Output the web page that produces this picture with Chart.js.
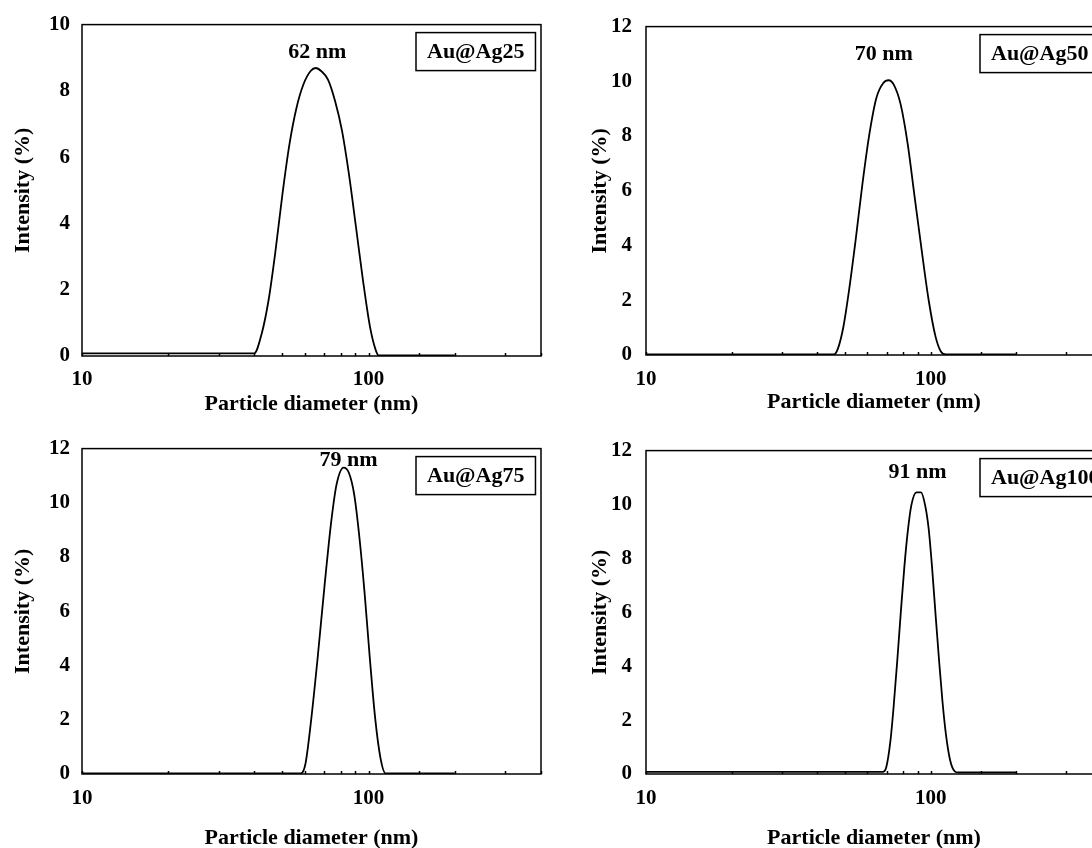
<!DOCTYPE html>
<html>
<head>
<meta charset="utf-8">
<script src="https://cdn.jsdelivr.net/npm/chart.js@4"></script>
<style>
  html, body { margin: 0; padding: 0; background: #fff; }
  body { width: 1092px; height: 848px; overflow: hidden; position: relative; }
  .panel { position: absolute; }
</style>
</head>
<body>
<div class="panel" style="left:0;top:0"><canvas id="c25" width="552" height="424"></canvas></div>
<div class="panel" style="left:546px;top:0"><canvas id="c50" width="568" height="424"></canvas></div>
<div class="panel" style="left:0;top:424px"><canvas id="c75" width="553" height="440"></canvas></div>
<div class="panel" style="left:546px;top:424px"><canvas id="c100" width="568" height="440"></canvas></div>
<script>
// particle diameter (nm) and intensity (%)
const size25 = [10, 39.9, 42.4, 44.8, 47.4, 50.1, 53.0, 56.1, 59.3, 62.8, 65.5, 68.3, 72.2, 76.4, 80.8, 85.4, 90.4, 95.6, 101.1, 105.5, 108.4, 200];
const int25 = [0.08, 0.08, 0.68, 1.69, 3.2, 4.9, 6.4, 7.5, 8.2, 8.6, 8.69, 8.6, 8.34, 7.7, 6.8, 5.5, 3.9, 2.3, 0.9, 0.23, 0.02, 0.02];

const size50 = [10, 45.8, 47.3, 49.4, 51.5, 54.5, 57.6, 60.9, 64.5, 68.2, 71.2, 74.2, 78.5, 83.1, 87.9, 93.0, 98.4, 104.0, 108.6, 113.2, 200];
const int50 = [0.02, 0.02, 0.25, 1.04, 2.25, 4.19, 6.25, 8.06, 9.40, 9.94, 10.04, 9.88, 9.15, 7.70, 5.76, 3.83, 2.01, 0.68, 0.13, 0.02, 0.02];

const size75 = [10, 58.0, 60.2, 62.8, 66.4, 70.2, 74.2, 77.4, 81.9, 85.4, 89.1, 92.9, 96.9, 101.1, 105.5, 110.0, 114.7, 200];
const int75 = [0.02, 0.02, 0.36, 1.82, 4.25, 6.92, 9.35, 10.69, 11.3, 11.11, 10.32, 8.75, 6.68, 4.25, 2.06, 0.61, 0.02, 0.02];

const size100 = [10, 67.9, 69.8, 72.2, 74.2, 76.4, 78.5, 80.8, 83.1, 85.5, 89.2, 92.5, 95.7, 98.4, 101.2, 104.0, 107.0, 110.1, 113.2, 117.2, 121.5, 125.0, 200];
const int100 = [0.08, 0.08, 0.24, 1.21, 2.55, 4.25, 5.95, 7.65, 8.99, 9.96, 10.45, 10.45, 9.96, 9.11, 7.65, 5.95, 4.25, 2.67, 1.46, 0.49, 0.1, 0.06, 0.06];

// sample names, peak labels and axis ranges
const samples = ['Au@Ag25', 'Au@Ag50', 'Au@Ag75', 'Au@Ag100'];
const peakLabels = ['62 nm', '70 nm', '79 nm', '91 nm'];
const yMax = [10, 12, 12, 12];
const xLabels = [10, 100];

const FONT = '"Liberation Serif", "Times New Roman", serif';

// frame, inward ticks, peak label and sample box
const decorPlugin = {
    id: 'decor',
    afterDatasetsDraw(chart, args, opts) {
        const ctx = chart.ctx;
        const a = chart.chartArea;
        const x = chart.scales.x;
        const y = chart.scales.y;
        ctx.save();
        ctx.strokeStyle = '#000';
        ctx.lineWidth = 1.5;
        ctx.strokeRect(a.left, a.top, a.right - a.left, a.bottom - a.top);

        x.ticks.forEach(t => {
            const px = Math.round(x.getPixelForValue(t.value)) + 0.5;
            ctx.beginPath();
            ctx.moveTo(px, a.bottom);
            ctx.lineTo(px, a.bottom - 3);
            ctx.stroke();
        });

        ctx.fillStyle = '#000';
        ctx.font = 'bold 22px ' + FONT;
        ctx.textAlign = 'center';
        ctx.textBaseline = 'middle';
        ctx.fillText(opts.peak, x.getPixelForValue(opts.peakX), y.getPixelForValue(opts.peakY));

        // sample name box
        const w = ctx.measureText(opts.sample).width + 22;
        const bx = a.left + 334;
        const by = a.top + 8;
        ctx.lineWidth = 1.5;
        ctx.strokeRect(bx, by, w, 38);
        ctx.textAlign = 'left';
        ctx.fillText(opts.sample, bx + 11, by + 20);
        ctx.restore();
    }
};

function makePanel(id, i, sizes, values, lay) {
    const ctx = document.getElementById(id).getContext('2d');
    new Chart(ctx, {
        type: 'line',
        data: {
            datasets: [{
                data: sizes.map((s, k) => ({ x: s, y: values[k] })),
                borderColor: '#000',
                borderWidth: 1.8,
                pointRadius: 0,
                fill: false,
                cubicInterpolationMode: 'monotone'
            }]
        },
        options: {
            responsive: false,
            animation: false,
            devicePixelRatio: 1,
            layout: {
                padding: { left: 0, top: lay.top, right: 0, bottom: 0 }
            },
            plugins: {
                legend: { display: false },
                tooltip: { enabled: false },
                decor: {
                    sample: samples[i],
                    peak: peakLabels[i],
                    peakX: lay.peakX,
                    peakY: lay.peakY
                }
            },
            scales: {
                x: {
                    type: 'logarithmic',
                    min: 10,
                    max: 400,
                    afterFit: (s) => { s.height = lay.xHeight; },
                    grid: { display: false, drawTicks: false },
                    border: { display: false },
                    ticks: {
                        autoSkip: false,
                        maxRotation: 0,
                        padding: lay.xTickPad,
                        color: '#000',
                        font: { family: FONT, size: 21, weight: 'bold' },
                        callback: (v) => xLabels.includes(v) ? String(v) : ''
                    },
                    title: {
                        display: true,
                        text: 'Particle diameter (nm)',
                        color: '#000',
                        font: { family: FONT, size: 22, weight: 'bold' },
                        padding: { top: 0, bottom: lay.xTitlePad }
                    }
                },
                y: {
                    min: 0,
                    max: yMax[i],
                    afterFit: (s) => { s.width = lay.yWidth; },
                    grid: { display: false, drawTicks: false },
                    border: { display: false },
                    ticks: {
                        stepSize: 2,
                        padding: lay.yTickPad,
                        color: '#000',
                        font: { family: FONT, size: 21, weight: 'bold' }
                    },
                    title: {
                        display: true,
                        text: 'Intensity (%)',
                        color: '#000',
                        font: { family: FONT, size: 22, weight: 'bold' },
                        padding: { top: lay.yTitlePad, bottom: 0 }
                    }
                }
            }
        },
        plugins: [decorPlugin]
    });
}

document.addEventListener('DOMContentLoaded', () => {
    makePanel('c25', 0, size25, int25, { top: 24, yWidth: 82, xHeight: 68, xTickPad: 11, xTitlePad: 6, yTickPad: 12, yTitlePad: 10, peakX: 66.3, peakY: 9.16 });
    makePanel('c50', 1, size50, int50, { top: 25, yWidth: 100, xHeight: 69, xTickPad: 12, xTitlePad: 8, yTickPad: 14, yTitlePad: 41, peakX: 68.4, peakY: 10.99 });
    makePanel('c75', 2, size75, int75, { top: 21, yWidth: 82, xHeight: 90, xTickPad: 12, xTitlePad: 12, yTickPad: 12, yTitlePad: 10, peakX: 85.1, peakY: 11.55 });
    makePanel('c100', 3, size100, int100, { top: 21, yWidth: 100, xHeight: 90, xTickPad: 12, xTitlePad: 12, yTickPad: 14, yTitlePad: 41, peakX: 89.9, peakY: 11.19 });
});
</script>
</body>
</html>
